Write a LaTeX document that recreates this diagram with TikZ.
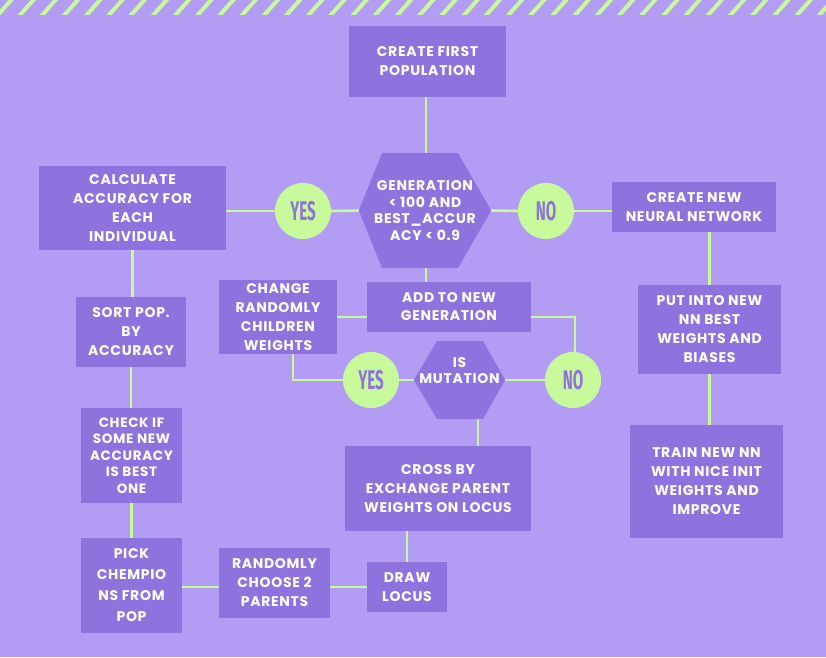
\documentclass[tikz,border=0pt]{standalone}
\usepackage{fontspec}
\setmainfont{Poppins}[LetterSpace=5]
\newfontfamily\condf[FakeStretch=0.56]{Fira Sans}
\usetikzlibrary{backgrounds,calc}
\definecolor{bgc}{HTML}{B39CF4}
\definecolor{boxc}{HTML}{8E73DF}
\definecolor{grn}{HTML}{C8FA9B}
\begin{document}
\begin{tikzpicture}[x=1pt,y=-1pt,
  box/.style={fill=boxc, text=white, align=center, inner sep=0pt,
    font=\bfseries\fontsize{14}{19}\selectfont},
  sz/.style 2 args={minimum width=#1pt, minimum height=#2pt},
  hexnode/.style={text=white, align=center, inner sep=0pt,
    font=\bfseries\fontsize{14}{16.5}\selectfont},
  circ/.style={circle, fill=grn, minimum size=56pt, inner sep=0pt, text=boxc,
    font=\condf\bfseries\fontsize{27}{27}\selectfont},
  conn/.style={draw=grn, line width=2.6pt},
  stripe/.style={draw=grn, line width=4pt}]
\useasboundingbox (0,0) rectangle (826,657);

% boxes
\node[box, sz={157}{71}] (fp) at (427.5,61.5) {CREATE FIRST\\POPULATION};
\node[hexnode, sz={132}{115}] (hexA) at (425,210.5) {GENERATION\\< 100 AND\\BEST\_ACCUR\\ACY < 0.9};
\node[box, sz={187}{84}] (calc) at (132.5,208) {CALCULATE\\ACCURACY FOR\\EACH\\INDIVIDUAL};
\node[box, sz={110}{70}] (sort) at (131,332) {SORT POP.\\BY\\ACCURACY};
\node[box, sz={101}{95}, font=\bfseries\fontsize{13.5}{16.4}\selectfont] (check) at (131.5,455.5) {CHECK IF\\SOME NEW\\ACCURACY\\IS BEST\\ONE};
\node[box, sz={101}{95}, font=\bfseries\fontsize{14}{21}\selectfont] (pick) at (131.5,585.5) {PICK\\CHEMPIO\\NS FROM\\POP};
\node[box, sz={111}{70}] (rand) at (274.5,583) {RANDOMLY\\CHOOSE 2\\PARENTS};
\node[box, sz={80}{50}] (drawl) at (407,587) {DRAW\\LOCUS};
\node[box, sz={186}{85}] (cross) at (438,488.5) {CROSS BY\\EXCHANGE PARENT\\WEIGHTS ON LOCUS};
\node[box, sz={118}{74}] (change) at (278,317) {CHANGE\\RANDOMLY\\CHILDREN\\WEIGHTS};
\node[box, sz={164}{50}, font=\bfseries\fontsize{14}{18}\selectfont] (add) at (449,307) {ADD TO NEW\\GENERATION};
\node[inner sep=0pt, sz={91}{78},
  label={[yshift=9pt, text=white, align=center, inner sep=0pt,
    font=\bfseries\fontsize{14}{16}\selectfont]center:IS\\MUTATION}] (hexB) at (459.5,380) {};
\node[box, sz={164}{50}] (nn) at (694,207) {CREATE NEW\\NEURAL NETWORK};
\node[box, sz={143}{89}] (put) at (709.5,329.5) {PUT INTO NEW\\NN BEST\\WEIGHTS AND\\BIASES};
\node[box, sz={153}{113}] (train) at (706.5,481.5) {TRAIN NEW NN\\WITH NICE INIT\\WEIGHTS AND\\IMPROVE};

% decision circles
\node[circ] (yesA) at (303,211) {YES};
\node[circ] (noA) at (546,211) {NO};
\node[circ] (yesB) at (371,380) {YES};
\node[circ] (noB) at (573,380) {NO};

\begin{pgfonlayer}{background}
  \fill[bgc] (0,0) rectangle (826,657);
  \begin{scope}
    \clip (0,0) rectangle (826,14);
    \foreach \k in {0,...,38} {
      \draw[stripe] ({-3+22.2*\k},16) -- ({13+22.2*\k},-2);
    }
  \end{scope}
  % connectors
  \draw[conn] (hexA.north -| 426,0) -- (fp.south -| 426,0);
  \draw[conn] (yesA.west) -- (yesA.west -| calc.east);
  \draw[conn] (yesA.east) -- (hexA.west);
  \draw[conn] (hexA.east) -- (noA.west);
  \draw[conn] (noA.east) -- (noA.east -| nn.west);
  \draw[conn] (calc.south) -- (calc.south |- sort.north);
  \draw[conn] (sort.south) -- (sort.south |- check.north);
  \draw[conn] (check.south) -- (check.south |- pick.north);
  \draw[conn] (pick.east |- drawl.west) -- (rand.west |- drawl.west);
  \draw[conn] (rand.east |- drawl.west) -- (drawl.west);
  \draw[conn] (cross.south -| drawl.north) -- (drawl.north);
  \draw[conn] (hexB.south -| 478,0) -- (cross.north -| 478,0);
  \draw[conn] (hexA.south -| 426,0) -- (add.north -| 426,0);
  \draw[conn] (change.east) -- (change.east -| add.west);
  \draw[conn] (change.east -| add.east) -| (noB.north -| 575,0) -- (noB.north);
  \draw[conn] (hexB.east) -- (noB.west);
  \draw[conn] (yesB.east) -- (hexB.west);
  \draw[conn] (change.south -| 293,0) |- (yesB.west);
  \draw[conn] (nn.south -| put.north) -- (put.north);
  \draw[conn] (put.south) -- (put.south |- train.north);
  % hexagons
  \fill[boxc] (hexA.west) -- (382,153) -- (458,153) -- (hexA.east) -- (458,268) -- (382,268) -- cycle;
  \fill[boxc] (hexB.west) -- (437,341) -- (483,341) -- (hexB.east) -- (483,419) -- (437,419) -- cycle;
\end{pgfonlayer}
\end{tikzpicture}
\end{document}
